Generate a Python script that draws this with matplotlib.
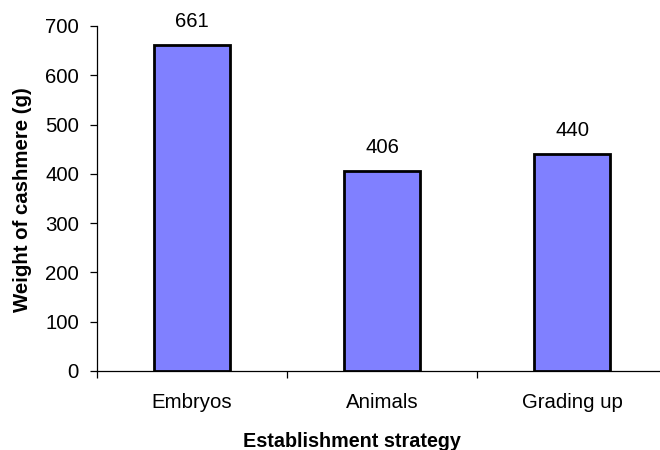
import matplotlib
matplotlib.use("Agg")
import matplotlib.pyplot as plt
import numpy as np

categories = ["Embryos", "Animals", "Grading up"]
weights = [661, 406, 440]
y_ticks = [0, 100, 200, 300, 400, 500, 600, 700]

plt.rcParams["font.family"] = ["Liberation Sans", "DejaVu Sans"]
FS = 14.7

fig = plt.figure(figsize=(6.6, 4.5), dpi=100)
ax = fig.add_axes([97 / 660, 79 / 450, 570 / 660, 345 / 450])

x = np.arange(len(categories))
ax.bar(x, weights, width=0.4, color="#8080FF", edgecolor="black",
       linewidth=2.0, zorder=3)

for xi, v in zip(x, weights):
    ax.annotate(str(v), (xi, v), xytext=(0, 10), textcoords="offset points",
                ha="center", va="bottom", fontsize=FS)

ax.set_xlim(-0.5, len(categories) - 0.5)
ax.set_ylim(0, 700)
ax.set_yticks(y_ticks)
ax.tick_params(axis="y", direction="out", length=5, width=0.9,
               labelsize=FS, pad=8)

ax.set_xticks(x)
ax.set_xticklabels(categories)
ax.tick_params(axis="x", which="major", length=0, labelsize=FS, pad=16)
ax.set_xticks(np.arange(-0.5, len(categories)), minor=True)
ax.tick_params(axis="x", which="minor", direction="out", length=5, width=0.9)

for s in ["top", "right"]:
    ax.spines[s].set_visible(False)
for s in ["left", "bottom"]:
    ax.spines[s].set_linewidth(0.9)

# axis titles placed in figure pixels
fig.text(23 / 660, 1 - 200 / 450, "Weight of cashmere (g)", rotation=90,
         ha="center", va="center", fontsize=FS, fontweight="bold")
fig.text(352 / 660, 1 - 447 / 450, "Establishment strategy",
         ha="center", va="baseline", fontsize=14.2, fontweight="bold")

fig.savefig("out.png", dpi=100)
